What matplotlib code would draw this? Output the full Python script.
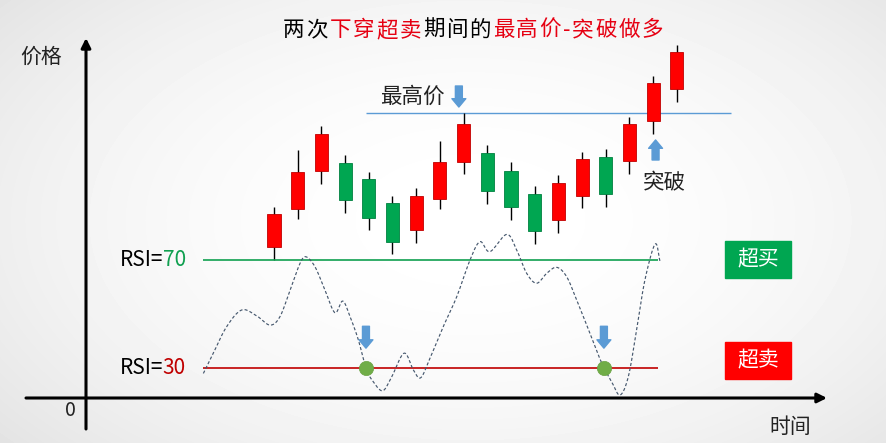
import numpy as np
import matplotlib
matplotlib.use("Agg")
import matplotlib.pyplot as plt
from matplotlib.patches import Rectangle

plt.rcParams["font.family"] = ["Noto Sans CJK SC", "DejaVu Sans"]

# ---- price candles (one per period) ----
opens  = [53.25, 62.75, 72.25, 74.25, 70.25, 64.25, 57.5, 65.25, 74.5, 76.75,
          72.25, 66.5, 60.0, 66.0, 75.75, 74.75, 84.75, 92.75]
highs  = [63.25, 77.5, 83.5, 76.25, 72.0, 66.0, 68.0, 79.75, 86.75, 78.75,
          74.5, 68.5, 71.25, 77.0, 77.75, 85.75, 96.0, 103.75]
lows   = [50.0, 60.25, 69.0, 61.75, 57.5, 51.5, 54.25, 62.75, 71.5, 64.0,
          60.0, 54.0, 56.75, 63.0, 63.25, 71.5, 81.5, 89.5]
closes = [61.5, 72.0, 81.5, 65.0, 60.5, 54.5, 66.0, 74.5, 84.0, 67.25,
          63.25, 57.25, 69.25, 75.25, 66.5, 84.0, 94.25, 102.0]

# ---- RSI path (time, value) ----
rsi_t = [-2.98, -2.56, -2.00, -1.36, -0.73, -0.17, 0.25, 0.68, 1.10, 1.35,
         1.73, 2.15, 2.57, 2.90, 3.21, 3.56, 3.88, 4.19, 4.59, 4.97,
         5.49, 5.88, 6.19, 6.58, 7.14, 7.71, 8.27, 8.69, 9.11, 9.82,
         10.24, 10.66, 11.08, 11.51, 11.93, 12.35, 12.77, 13.33, 13.83, 14.25,
         14.60, 14.95, 15.30, 15.65, 16.08, 16.29]
rsi_v = [28.1, 35.6, 45.4, 51.6, 49.4, 46.0, 49.1, 59.0, 68.9, 71.3,
         67.6, 59.0, 50.6, 54.9, 49.1, 40.5, 30.0, 25.0, 21.7, 26.9,
         35.6, 29.4, 26.5, 33.7, 45.4, 56.5, 70.1, 76.9, 73.2, 79.6,
         73.8, 65.2, 61.5, 65.2, 67.4, 63.9, 55.3, 43.0, 31.9, 25.0,
         20.1, 26.9, 44.2, 62.7, 76.0, 69.5]

overbought = 70
oversold = 30
cross_t = [3.88, 13.92]          # RSI crossing down through the oversold level
breakout_idx = 16                # first candle closing above the range high

title_parts = [("两次", "black"), ("下穿超卖", "#E60012"),
               ("期间的", "black"), ("最高价-突破做多", "#E60012")]

# ---- colours ----
UP, DOWN = "#FF0000", "#00A651"
UP_EDGE, DOWN_EDGE = "#C00000", "#00803F"
BLUE = "#5B9BD5"
OB_GREEN, OS_RED = "#10A050", "#C00000"

W, H = 887, 443
fig = plt.figure(figsize=(W / 100, H / 100), dpi=100)

# background canvas in pixel units
bg = fig.add_axes([0, 0, 1, 1])
bg.set_xlim(0, W)
bg.set_ylim(H, 0)
bg.axis("off")
yy, xx = np.mgrid[0:H, 0:W]
r = np.hypot((xx - 470) / 520, (yy - 220) / 300)
shade = 1.0 - 0.08 * np.clip(r, 0, 1.6) ** 2
bg.imshow(shade, cmap="gray", vmin=0, vmax=1, extent=(0, W, H, 0),
          aspect="auto", zorder=0)

# time axis scale shared by the price and RSI layers
t0_px, px_per_t = 274.0, 23.7
xlim = (-t0_px / px_per_t, (W - t0_px) / px_per_t)

ax_p = fig.add_axes([0, 0, 1, 1])
ax_p.set_xlim(xlim)
ax_p.set_ylim(4.25, 115)
ax_p.axis("off")
ax_p.patch.set_visible(False)

ax_r = fig.add_axes([0, 0, 1, 1])
ax_r.set_xlim(xlim)
ax_r.set_ylim(2.33, 166.41)
ax_r.axis("off")
ax_r.patch.set_visible(False)

# ---- axes arrows ----
arrow_kw = dict(arrowstyle="-|>", lw=2.2, color="black", mutation_scale=14,
                shrinkA=0, shrinkB=0)
bg.annotate("", xy=(86, 38), xytext=(86, 429), arrowprops=arrow_kw)
bg.annotate("", xy=(827, 398), xytext=(26, 398), arrowprops=arrow_kw)
bg.text(41, 57, "价格", fontsize=15, ha="center", va="center", color="#222222")
bg.text(790, 427, "时间", fontsize=15, ha="center", va="center", color="#222222")
bg.text(70, 411, "0", fontsize=14, ha="center", va="center", color="#222222")

# ---- title (multi-coloured, letter-spaced) ----
renderer = fig.canvas.get_renderer()
x_cursor, spacing = 283.0, 1.8
for txt, col in title_parts:
    for ch in txt:
        t = bg.text(x_cursor, 30, ch, color=col, fontsize=15.5,
                    ha="left", va="center")
        x_cursor += t.get_window_extent(renderer).width + spacing

# ---- candles ----
idx = np.arange(len(opens))
o, h, l, c = map(np.asarray, (opens, highs, lows, closes))
up = c >= o
ax_p.vlines(idx, l, h, color="black", lw=1.0, zorder=2)
ax_p.bar(idx, np.abs(c - o), bottom=np.minimum(o, c), width=0.55,
         color=np.where(up, UP, DOWN), edgecolor=np.where(up, UP_EDGE, DOWN_EDGE),
         linewidth=0.6, zorder=3)

# range high between the two oversold crossings
in_range = (idx >= cross_t[0]) & (idx <= cross_t[1])
top_i = int(idx[in_range][np.argmax(h[in_range])])
level = h[top_i]
ax_p.hlines(level, cross_t[0], 19.3, color=BLUE, lw=1.0, zorder=1)

block = dict(arrowstyle="simple,head_length=0.6,head_width=1.0,tail_width=0.5",
             color=BLUE, mutation_scale=10, shrinkA=0)
ax_p.annotate("", xy=(top_i - 0.2, level), xytext=(0, 27),
              textcoords="offset pixels",
              arrowprops=dict(block, shrinkB=4.3))
ax_p.annotate("最高价", xy=(top_i - 0.2, level), xytext=(-14, 16),
              textcoords="offset pixels", ha="right", va="center",
              fontsize=15.5, color="#222222")

ax_p.annotate("", xy=(breakout_idx + 0.1, l[breakout_idx]), xytext=(0, -26),
              textcoords="offset pixels",
              arrowprops=dict(block, shrinkB=4.3))
ax_p.annotate("突破", xy=(breakout_idx + 0.1, l[breakout_idx]), xytext=(9, -49),
              textcoords="offset pixels", ha="center", va="center",
              fontsize=15.5, color="#222222")

# ---- RSI ----
def catmull_rom(x, y, n=14):
    p = np.column_stack([x, y]).astype(float)
    p = np.vstack([2 * p[0] - p[1], p, 2 * p[-1] - p[-2]])
    s = np.linspace(0, 1, n, endpoint=False)[:, None]
    segs = []
    for i in range(1, len(p) - 2):
        p0, p1, p2, p3 = p[i - 1], p[i], p[i + 1], p[i + 2]
        segs.append(0.5 * (2 * p1 + (-p0 + p2) * s
                           + (2 * p0 - 5 * p1 + 4 * p2 - p3) * s ** 2
                           + (-p0 + 3 * p1 - 3 * p2 + p3) * s ** 3))
    segs.append(p[-2][None, :])
    return np.vstack(segs).T

rsi_start, rsi_end = -3.0, 16.2
ax_r.hlines(overbought, rsi_start, rsi_end, color=OB_GREEN, lw=1.2, zorder=2)
ax_r.hlines(oversold, rsi_start, rsi_end, color=OS_RED, lw=1.2, zorder=2)

sx, sy = catmull_rom(rsi_t, rsi_v)
ax_r.plot(sx, sy, color="#46586E", lw=0.85, ls=(0, (2.6, 1.8)), zorder=3)

ax_r.scatter(cross_t, [oversold] * len(cross_t), s=105, color="#70AD47",
             edgecolors="#6AA244", linewidths=0.5, zorder=4)
for ct in cross_t:
    ax_r.annotate("", xy=(ct, oversold), xytext=(0, 42),
                  textcoords="offset pixels",
                  arrowprops=dict(block, shrinkB=14.5))

for lvl, col in ((overbought, OB_GREEN), (oversold, OS_RED)):
    num = ax_r.annotate(f"{lvl}", xy=(rsi_start, lvl), xytext=(-17, 0),
                        textcoords="offset pixels", ha="right", va="center",
                        fontsize=15, color=col)
    ax_r.annotate("RSI=", xy=(0, 0.5), xycoords=num, ha="right", va="center",
                  fontsize=15, color="black")

# ---- zone tags ----
for y0, col, txt in ((241, "#00A651", "超买"), (342, "#FF0000", "超卖")):
    bg.add_patch(Rectangle((725, y0), 66, 37, color=col, zorder=5))
    bg.text(758, y0 + 18.5, txt, color="white", fontsize=15,
            ha="center", va="center", zorder=6)

fig.savefig("out.png", dpi=100)
